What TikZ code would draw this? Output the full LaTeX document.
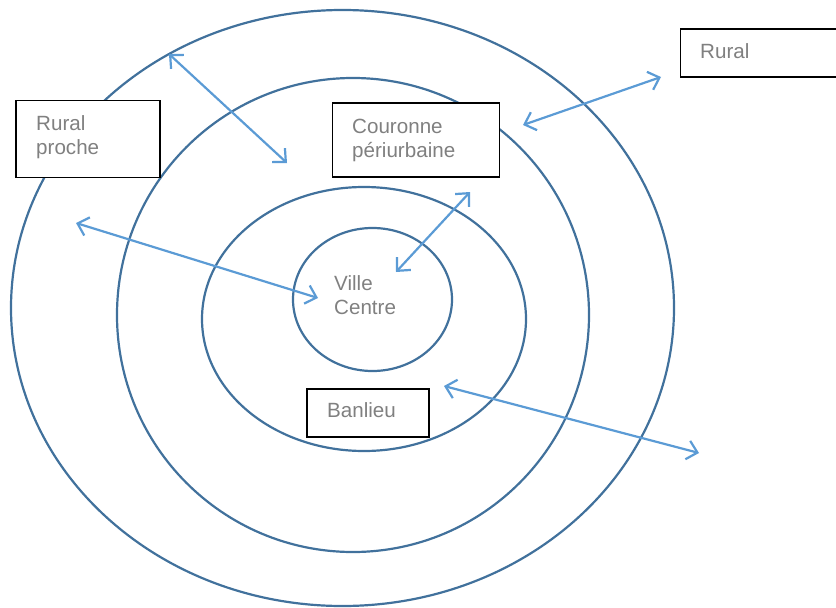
\documentclass[tikz,border=0pt]{standalone}
\usepackage{fontspec}
\setmainfont{Liberation Sans}
\usetikzlibrary{arrows.meta}
\definecolor{ringblue}{RGB}{65,113,156}
\definecolor{arrowblue}{RGB}{91,155,213}
\definecolor{txtgray}{RGB}{128,128,128}
\begin{document}
\begin{tikzpicture}[x=1pt,y=-1pt,
  ring/.style={draw=ringblue,line width=2.2pt},
  box/.style={draw=black,line width=1.6pt,rectangle,inner sep=0pt,anchor=north west},
  lbl/.style={anchor=base west,inner sep=0pt,text=txtgray,font=\fontsize{20.6}{24}\selectfont,align=left},
  link/.style={draw=arrowblue,line width=2.2pt,{Straight Barb[length=10pt,width=19pt,line width=2.2pt]}-{Straight Barb[length=10pt,width=19pt,line width=2.2pt]}}
]
\useasboundingbox (0,0) rectangle (836,608);
% rings
\draw[ring] (342.5,308) ellipse [x radius=331.5, y radius=298];
\draw[ring] (353,315) ellipse [x radius=236, y radius=237];
\draw[ring] (364,319) ellipse [x radius=162, y radius=132];
\draw[ring] (372.5,299.5) ellipse [x radius=79.5, y radius=71.5];
% boxes
\node[box,fill=white,minimum width=144pt,minimum height=77pt] (rpbox) at (15,99.5) {};
\node[box,fill=white,minimum width=167pt,minimum height=74pt] (cpbox) at (331.5,102) {};
\node[box,fill=white,minimum width=170pt,minimum height=48pt] (rbox) at (679.5,28) {};
\node[box,fill=white,minimum width=122pt,minimum height=48pt] (bbox) at (306,388) {};
% labels (base = baseline of last line)
\node[lbl] (rp) at (36,154) {Rural\\proche};
\node[lbl] (cp) at (352,157) {Couronne\\périurbaine};
\node[lbl] (r) at (700,58) {Rural};
\node[lbl] (b) at (327,417) {Banlieu};
\node[lbl] (vc) at (334,314) {Ville\\Centre};
% arrow ends
\coordinate (a1s) at (169,54);  \coordinate (a1e) at (287,163);
\coordinate (a2s) at (76,223);  \coordinate (a2e) at (318,298);
\coordinate (a3s) at (470,192); \coordinate (a3e) at (396,272);
\coordinate (a4s) at (661,77);  \coordinate (a4e) at (523,125);
\coordinate (a5s) at (444,386); \coordinate (a5e) at (699,453);
\draw[link] (a1s) -- (a1e);
\draw[link] (a2s) -- (a2e);
\draw[link] (a3s) -- (a3e);
\draw[link] (a4s) -- (a4e);
\draw[link] (a5s) -- (a5e);
\end{tikzpicture}
\end{document}
